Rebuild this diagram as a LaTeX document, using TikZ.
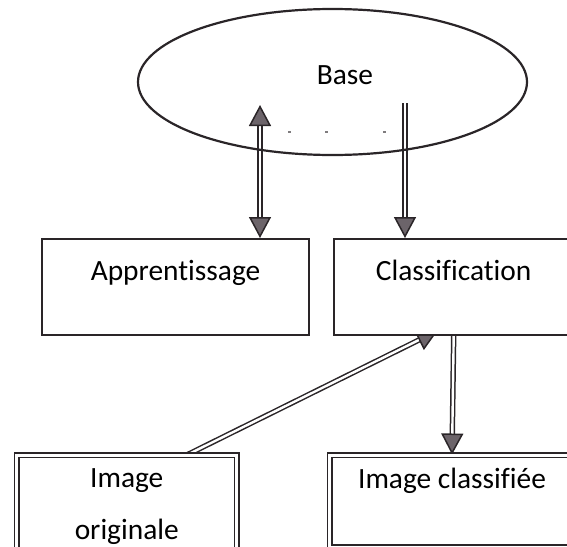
\documentclass[tikz,border=0pt]{standalone}
\usepackage{fontspec}
\setmainfont[Ligatures=NoCommon]{Carlito}
\usetikzlibrary{arrows.meta,positioning,shapes.geometric,backgrounds}
\definecolor{ink}{RGB}{42,37,40}
\definecolor{headgray}{RGB}{108,100,106}

\begin{document}
\begin{tikzpicture}[x=0.5pt, y=-0.5pt, >={Triangle[width=11pt,length=10.5pt,fill=headgray]}, font=\fontsize{14.7}{26}\selectfont]
	\tikzstyle{blk}=[draw=ink, line width=0.85pt, fill=white, inner sep=0pt, text height=21pt, text depth=27pt]
	\tikzstyle{dblk}=[blk, line width=0.75pt, double=white, double distance=1.5pt, text height=16.75pt]
	\tikzstyle{dbl}=[draw=ink, line width=0.75pt, double=white, double distance=1.2pt]
	\useasboundingbox (0,0) rectangle (567,546);
	\node[ellipse, draw=ink, line width=1.1pt, minimum width=194.5pt, minimum height=73pt] (base) at (332.5,82) {};
	\node (basetxt) at (345,75) {Base};
	\node[blk, minimum width=133.5pt, anchor=north] (appr) at (175.5,238) {Apprentissage};
	\node[blk, minimum width=120pt, right=11.5pt of appr] (clas) {Classification};
	\node[dblk, minimum width=110pt, text height=42.25pt, text depth=15pt, align=center, anchor=north] (orig) at (126.75,454.5) {Image\\originale};
	\node[dblk, minimum width=122.5pt, text depth=29.25pt, anchor=north] (res) at (452,454.5) {Image classifiée};
	\coordinate (a1) at (260,105);
	\coordinate (c1) at (405,103);
	\foreach \x in {288,325,383} \fill[ink!60] (\x,131) rectangle ++(3,1.5);
	\begin{scope}[on background layer]
		\draw[dbl, <->] (a1) -- (a1 |- appr.north);
		\draw[dbl, ->] (c1) -- (c1 |- clas.north);
		\draw[dbl, ->] ([xshift=30.5pt]orig.north) -- ([xshift=-8pt,yshift=2.5pt]clas.south);
		\draw[dbl, ->] (clas.south) -- (res.north);
	\end{scope}
\end{tikzpicture}
\end{document}
